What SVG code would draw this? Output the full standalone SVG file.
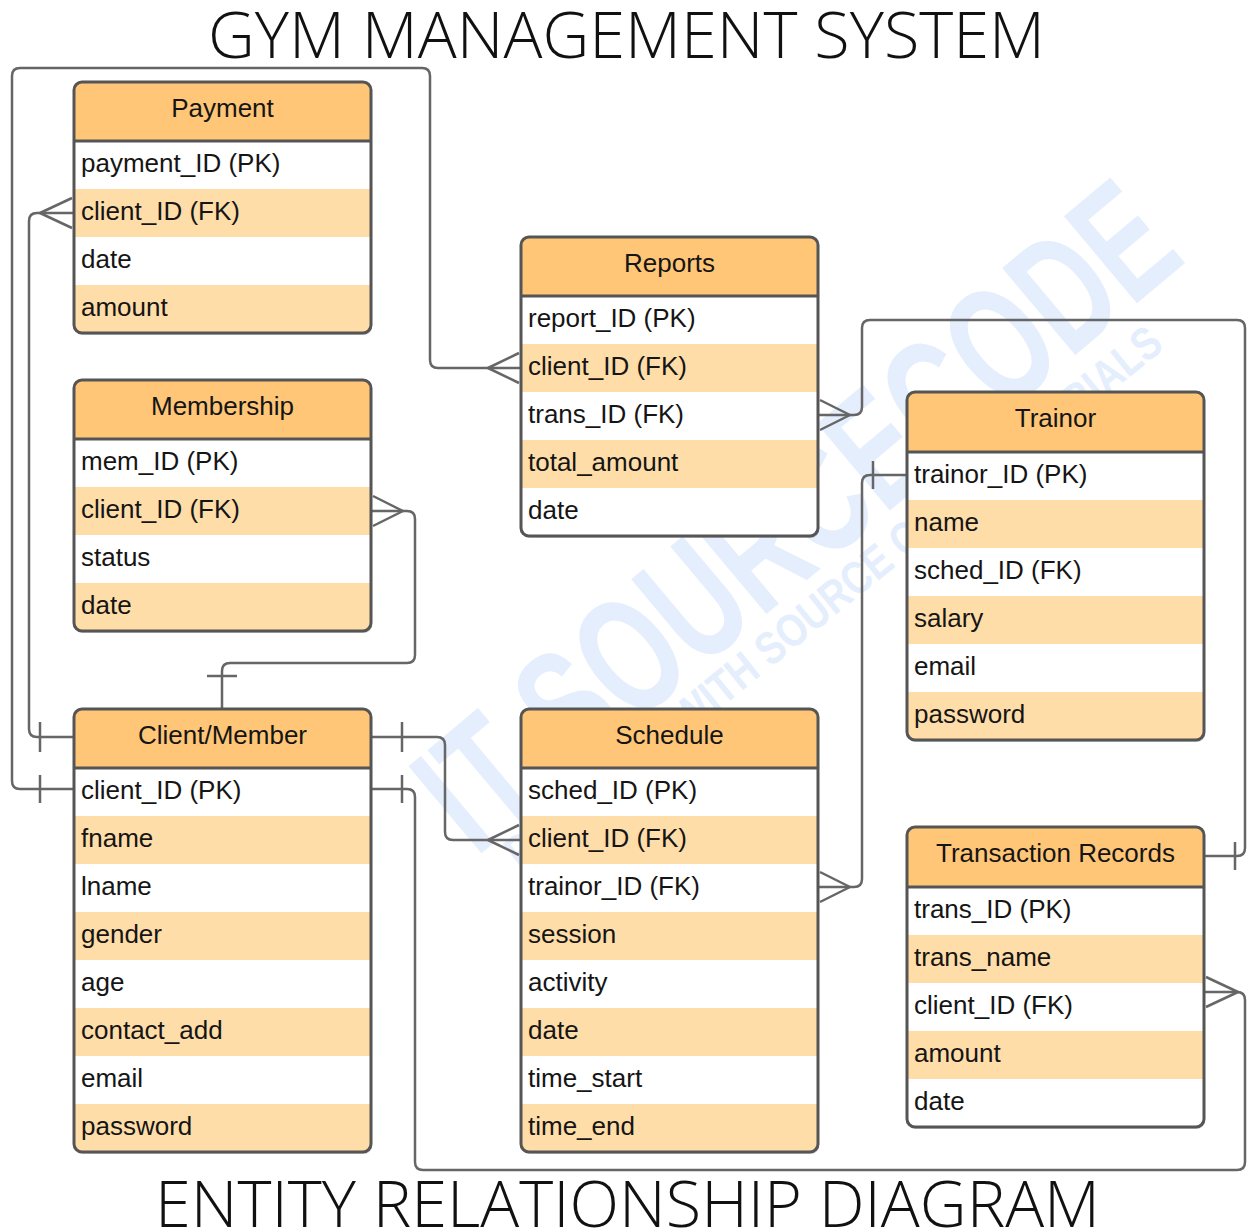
<svg xmlns="http://www.w3.org/2000/svg" width="1248" height="1232" viewBox="0 0 1248 1232">
<defs>
<style>
.bg{fill:#fff}
.hdr{fill:#FFC677}
.band{fill:#FFDDA8}
.border{fill:none;stroke:#555;stroke-width:3}
.sep{stroke:#555;stroke-width:3}
.shadow{fill:#000;opacity:.15}
.ht{font-family:"Liberation Sans",Arial,sans-serif;font-size:26px;fill:#151515;text-anchor:middle}
.rt{font-family:"Liberation Sans",Arial,sans-serif;font-size:26px;fill:#151515}
.cn{fill:none;stroke:#666;stroke-width:2.5;stroke-linejoin:round;stroke-linecap:butt}
.title{font-family:"Open Sans","Lato","Liberation Sans",sans-serif;font-weight:300;font-size:64px;fill:#111}
.wm{font-family:"Liberation Sans Narrow","Liberation Sans",sans-serif;font-weight:bold;fill:#E4EEFC}
</style>
<clipPath id="cpPay"><rect x="74" y="82" width="297" height="251" rx="8"/></clipPath>
<clipPath id="cpMem"><rect x="74" y="380" width="297" height="251" rx="8"/></clipPath>
<clipPath id="cpCli"><rect x="74" y="709" width="297" height="443" rx="8"/></clipPath>
<clipPath id="cpRep"><rect x="521" y="237" width="297" height="299" rx="8"/></clipPath>
<clipPath id="cpSch"><rect x="521" y="709" width="297" height="443" rx="8"/></clipPath>
<clipPath id="cpTra"><rect x="907" y="392" width="297" height="348" rx="8"/></clipPath>
<clipPath id="cpTrx"><rect x="907" y="827" width="297" height="300" rx="8"/></clipPath>
</defs>
<rect width="1248" height="1232" fill="#fff"/>

<g id="watermark">
<text class="wm" transform="translate(832,559) rotate(-40)" text-anchor="middle" font-size="165" textLength="930" lengthAdjust="spacingAndGlyphs">IT SOURCECODE</text>
<text class="wm" transform="translate(843,609) rotate(-39)" text-anchor="middle" font-size="46" textLength="830" lengthAdjust="spacingAndGlyphs">PROJECTS WITH SOURCE CODE TUTORIALS</text>
</g>

<text class="title" x="208" y="58" textLength="837" lengthAdjust="spacingAndGlyphs">GYM MANAGEMENT SYSTEM</text>
<text class="title" x="155" y="1227" textLength="945" lengthAdjust="spacingAndGlyphs">ENTITY RELATIONSHIP DIAGRAM</text>

<g id="connectors">
<path class="cn" d="M74,213 H37 Q29,213 29,221 V729 Q29,737 37,737 H74"/>
<path class="cn" d="M72,198 L40,213 L72,228"/>
<path class="cn" d="M40,722 V752"/>

<path class="cn" d="M74,789 H20 Q12,789 12,781 V76 Q12,68 20,68 H422 Q430,68 430,76 V360 Q430,368 438,368 H521"/>
<path class="cn" d="M40,775 V803"/>
<path class="cn" d="M519,353 L488,368 L519,383"/>

<path class="cn" d="M371,511 H407 Q415,511 415,519 V655 Q415,663 407,663 H230 Q222,663 222,671 V709"/>
<path class="cn" d="M373,496 L403,511 L373,526"/>
<path class="cn" d="M207,676 H237"/>

<path class="cn" d="M371,737 H437 Q445,737 445,745 V832 Q445,840 453,840 H521"/>
<path class="cn" d="M402,722 V752"/>
<path class="cn" d="M519,825 L488,840 L519,855"/>

<path class="cn" d="M371,789 H407 Q415,789 415,797 V1162 Q415,1170 423,1170 H1237 Q1245,1170 1245,1162 V1000 Q1245,992 1237,992 H1204"/>
<path class="cn" d="M402,775 V803"/>
<path class="cn" d="M1206,977 L1238,992 L1206,1007"/>

<path class="cn" d="M818,415 H854 Q862,415 862,407 V328 Q862,320 870,320 H1237 Q1245,320 1245,328 V848 Q1245,856 1237,856 H1204"/>
<path class="cn" d="M820,400 L850,415 L820,430"/>
<path class="cn" d="M1235,842 V870"/>

<path class="cn" d="M818,887 H854 Q862,887 862,879 V483 Q862,475 870,475 H907"/>
<path class="cn" d="M820,872 L850,887 L820,902"/>
<path class="cn" d="M873,461 V489"/>
</g>

<g id="payment">
<rect class="shadow" x="75" y="84" width="297" height="251" rx="8"/>
<g clip-path="url(#cpPay)">
<rect class="bg" x="74" y="82" width="297" height="251"/>
<rect class="hdr" x="74" y="82" width="297" height="59"/>
<rect class="band" x="74" y="189" width="297" height="48"/>
<rect class="band" x="74" y="285" width="297" height="48"/>
</g>
<line class="sep" x1="74" y1="141" x2="371" y2="141"/>
<rect class="border" x="74" y="82" width="297" height="251" rx="8"/>
<text class="ht" x="222.5" y="117">Payment</text>
<text class="rt" x="81" y="172">payment_ID (PK)</text>
<text class="rt" x="81" y="220">client_ID (FK)</text>
<text class="rt" x="81" y="268">date</text>
<text class="rt" x="81" y="316">amount</text>
</g>

<g id="membership">
<rect class="shadow" x="75" y="382" width="297" height="251" rx="8"/>
<g clip-path="url(#cpMem)">
<rect class="bg" x="74" y="380" width="297" height="251"/>
<rect class="hdr" x="74" y="380" width="297" height="59"/>
<rect class="band" x="74" y="487" width="297" height="48"/>
<rect class="band" x="74" y="583" width="297" height="48"/>
</g>
<line class="sep" x1="74" y1="439" x2="371" y2="439"/>
<rect class="border" x="74" y="380" width="297" height="251" rx="8"/>
<text class="ht" x="222.5" y="415">Membership</text>
<text class="rt" x="81" y="470">mem_ID (PK)</text>
<text class="rt" x="81" y="518">client_ID (FK)</text>
<text class="rt" x="81" y="566">status</text>
<text class="rt" x="81" y="614">date</text>
</g>

<g id="client-member">
<rect class="shadow" x="75" y="711" width="297" height="443" rx="8"/>
<g clip-path="url(#cpCli)">
<rect class="bg" x="74" y="709" width="297" height="443"/>
<rect class="hdr" x="74" y="709" width="297" height="59"/>
<rect class="band" x="74" y="816" width="297" height="48"/>
<rect class="band" x="74" y="912" width="297" height="48"/>
<rect class="band" x="74" y="1008" width="297" height="48"/>
<rect class="band" x="74" y="1104" width="297" height="48"/>
</g>
<line class="sep" x1="74" y1="768" x2="371" y2="768"/>
<rect class="border" x="74" y="709" width="297" height="443" rx="8"/>
<text class="ht" x="222.5" y="744">Client/Member</text>
<text class="rt" x="81" y="799">client_ID (PK)</text>
<text class="rt" x="81" y="847">fname</text>
<text class="rt" x="81" y="895">lname</text>
<text class="rt" x="81" y="943">gender</text>
<text class="rt" x="81" y="991">age</text>
<text class="rt" x="81" y="1039">contact_add</text>
<text class="rt" x="81" y="1087">email</text>
<text class="rt" x="81" y="1135">password</text>
</g>

<g id="reports">
<rect class="shadow" x="522" y="239" width="297" height="299" rx="8"/>
<g clip-path="url(#cpRep)">
<rect class="bg" x="521" y="237" width="297" height="299"/>
<rect class="hdr" x="521" y="237" width="297" height="59"/>
<rect class="band" x="521" y="344" width="297" height="48"/>
<rect class="band" x="521" y="440" width="297" height="48"/>
</g>
<line class="sep" x1="521" y1="296" x2="818" y2="296"/>
<rect class="border" x="521" y="237" width="297" height="299" rx="8"/>
<text class="ht" x="669.5" y="272">Reports</text>
<text class="rt" x="528" y="327">report_ID (PK)</text>
<text class="rt" x="528" y="375">client_ID (FK)</text>
<text class="rt" x="528" y="423">trans_ID (FK)</text>
<text class="rt" x="528" y="471">total_amount</text>
<text class="rt" x="528" y="519">date</text>
</g>

<g id="schedule">
<rect class="shadow" x="522" y="711" width="297" height="443" rx="8"/>
<g clip-path="url(#cpSch)">
<rect class="bg" x="521" y="709" width="297" height="443"/>
<rect class="hdr" x="521" y="709" width="297" height="59"/>
<rect class="band" x="521" y="816" width="297" height="48"/>
<rect class="band" x="521" y="912" width="297" height="48"/>
<rect class="band" x="521" y="1008" width="297" height="48"/>
<rect class="band" x="521" y="1104" width="297" height="48"/>
</g>
<line class="sep" x1="521" y1="768" x2="818" y2="768"/>
<rect class="border" x="521" y="709" width="297" height="443" rx="8"/>
<text class="ht" x="669.5" y="744">Schedule</text>
<text class="rt" x="528" y="799">sched_ID (PK)</text>
<text class="rt" x="528" y="847">client_ID (FK)</text>
<text class="rt" x="528" y="895">trainor_ID (FK)</text>
<text class="rt" x="528" y="943">session</text>
<text class="rt" x="528" y="991">activity</text>
<text class="rt" x="528" y="1039">date</text>
<text class="rt" x="528" y="1087">time_start</text>
<text class="rt" x="528" y="1135">time_end</text>
</g>

<g id="trainor">
<rect class="shadow" x="908" y="394" width="297" height="348" rx="8"/>
<g clip-path="url(#cpTra)">
<rect class="bg" x="907" y="392" width="297" height="348"/>
<rect class="hdr" x="907" y="392" width="297" height="60"/>
<rect class="band" x="907" y="500" width="297" height="48"/>
<rect class="band" x="907" y="596" width="297" height="48"/>
<rect class="band" x="907" y="692" width="297" height="48"/>
</g>
<line class="sep" x1="907" y1="452" x2="1204" y2="452"/>
<rect class="border" x="907" y="392" width="297" height="348" rx="8"/>
<text class="ht" x="1055.5" y="427">Trainor</text>
<text class="rt" x="914" y="483">trainor_ID (PK)</text>
<text class="rt" x="914" y="531">name</text>
<text class="rt" x="914" y="579">sched_ID (FK)</text>
<text class="rt" x="914" y="627">salary</text>
<text class="rt" x="914" y="675">email</text>
<text class="rt" x="914" y="723">password</text>
</g>

<g id="transaction-records">
<rect class="shadow" x="908" y="829" width="297" height="300" rx="8"/>
<g clip-path="url(#cpTrx)">
<rect class="bg" x="907" y="827" width="297" height="300"/>
<rect class="hdr" x="907" y="827" width="297" height="60"/>
<rect class="band" x="907" y="935" width="297" height="48"/>
<rect class="band" x="907" y="1031" width="297" height="48"/>
</g>
<line class="sep" x1="907" y1="887" x2="1204" y2="887"/>
<rect class="border" x="907" y="827" width="297" height="300" rx="8"/>
<text class="ht" x="1055.5" y="862">Transaction Records</text>
<text class="rt" x="914" y="918">trans_ID (PK)</text>
<text class="rt" x="914" y="966">trans_name</text>
<text class="rt" x="914" y="1014">client_ID (FK)</text>
<text class="rt" x="914" y="1062">amount</text>
<text class="rt" x="914" y="1110">date</text>
</g>
</svg>
